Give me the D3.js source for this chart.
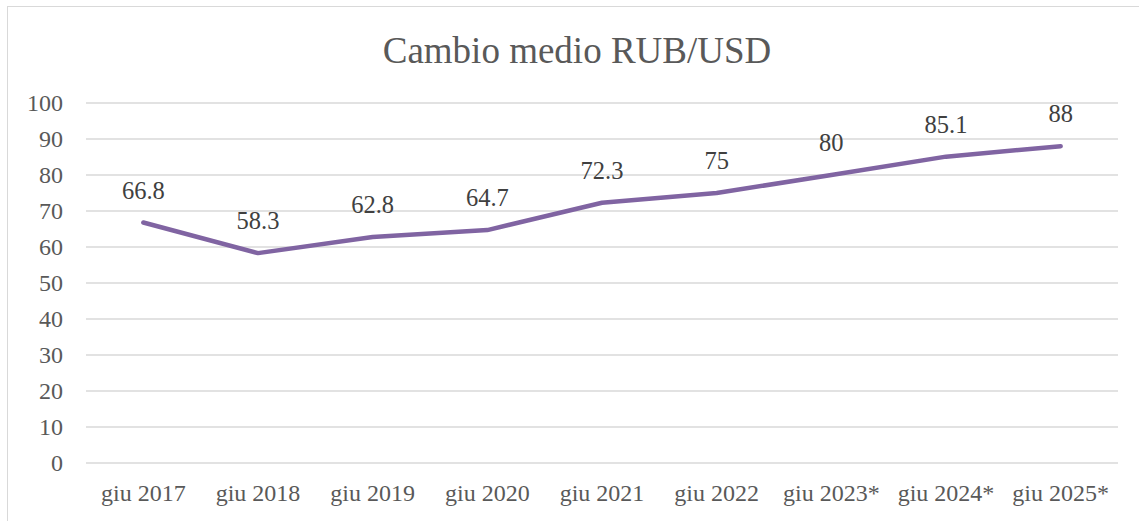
<!DOCTYPE html>
<html>
<head>
<meta charset="utf-8">
<script src="https://cdn.jsdelivr.net/npm/d3@7"></script>
<style>
  body { margin: 0; background: #fff; }
  svg { display: block; font-family: "Liberation Serif", serif; }
</style>
</head>
<body>
<div id="chart-area"></div>
<script>
const categories = ["giu 2017", "giu 2018", "giu 2019", "giu 2020", "giu 2021", "giu 2022", "giu 2023*", "giu 2024*", "giu 2025*"];
const values = [66.8, 58.3, 62.8, 64.7, 72.3, 75, 80, 85.1, 88];
const yTicks = [0, 10, 20, 30, 40, 50, 60, 70, 80, 90, 100];
const title = "Cambio medio RUB/USD";

const W = 1139, H = 521;
const margin = { top: 103, right: 21, bottom: 58, left: 86 };
const width = W - margin.left - margin.right;
const height = H - margin.top - margin.bottom;
const fontFamily = "Liberation Serif, serif";

const svg = d3.select("#chart-area")
  .append("svg")
    .attr("width", W)
    .attr("height", H);

// chart frame
svg.append("rect")
  .attr("x", 7.5)
  .attr("y", 6.5)
  .attr("width", W + 10)
  .attr("height", H + 10)
  .attr("fill", "none")
  .attr("stroke", "#d9d9d9")
  .attr("stroke-width", 1);

svg.append("text")
  .attr("x", 577)
  .attr("y", 63)
  .attr("text-anchor", "middle")
  .attr("font-size", "37px")
  .attr("fill", "#595959")
  .text(title);

const g = svg.append("g")
  .attr("transform", `translate(${margin.left}, ${margin.top})`);

const x = d3.scaleBand()
  .domain(categories)
  .range([0, width]);

const y = d3.scaleLinear()
  .domain([0, 100])
  .range([height, 0]);

// gridlines
g.append("g")
  .attr("class", "grid")
  .selectAll("line")
  .data(yTicks)
  .enter()
  .append("line")
    .attr("x1", 0)
    .attr("x2", width)
    .attr("y1", d => y(d))
    .attr("y2", d => y(d))
    .attr("stroke", "#d9d9d9")
    .attr("stroke-width", 1.5);

const yAxisCall = d3.axisLeft(y)
  .tickValues(yTicks)
  .tickSize(0)
  .tickPadding(23);

const yAxis = g.append("g")
  .attr("class", "y-axis")
  .call(yAxisCall);
yAxis.select(".domain").remove();
yAxis.selectAll("text")
  .attr("font-family", fontFamily)
  .attr("font-size", "24px")
  .attr("fill", "#595959");

const xAxisCall = d3.axisBottom(x).tickSize(0).tickPadding(21);

const xAxis = g.append("g")
  .attr("class", "x-axis")
  .attr("transform", `translate(0, ${height})`)
  .call(xAxisCall);
xAxis.select(".domain").remove();
xAxis.selectAll("text")
  .attr("font-family", fontFamily)
  .attr("font-size", "24px")
  .attr("fill", "#595959");

const data = categories.map((c, i) => ({ cat: c, value: values[i] }));

const line = d3.line()
  .x(d => x(d.cat) + x.bandwidth() / 2)
  .y(d => y(d.value));

g.append("path")
  .datum(data)
  .attr("d", line)
  .attr("fill", "none")
  .attr("stroke", "#8064a2")
  .attr("stroke-width", 4.5)
  .attr("stroke-linecap", "round")
  .attr("stroke-linejoin", "round");

g.selectAll(".label")
  .data(data)
  .enter()
  .append("text")
    .attr("class", "label")
    .attr("x", d => x(d.cat) + x.bandwidth() / 2)
    .attr("y", d => y(d.value) - 24)
    .attr("text-anchor", "middle")
    .attr("font-size", "24.5px")
    .attr("fill", "#404040")
    .text(d => d.value);
</script>
</body>
</html>
